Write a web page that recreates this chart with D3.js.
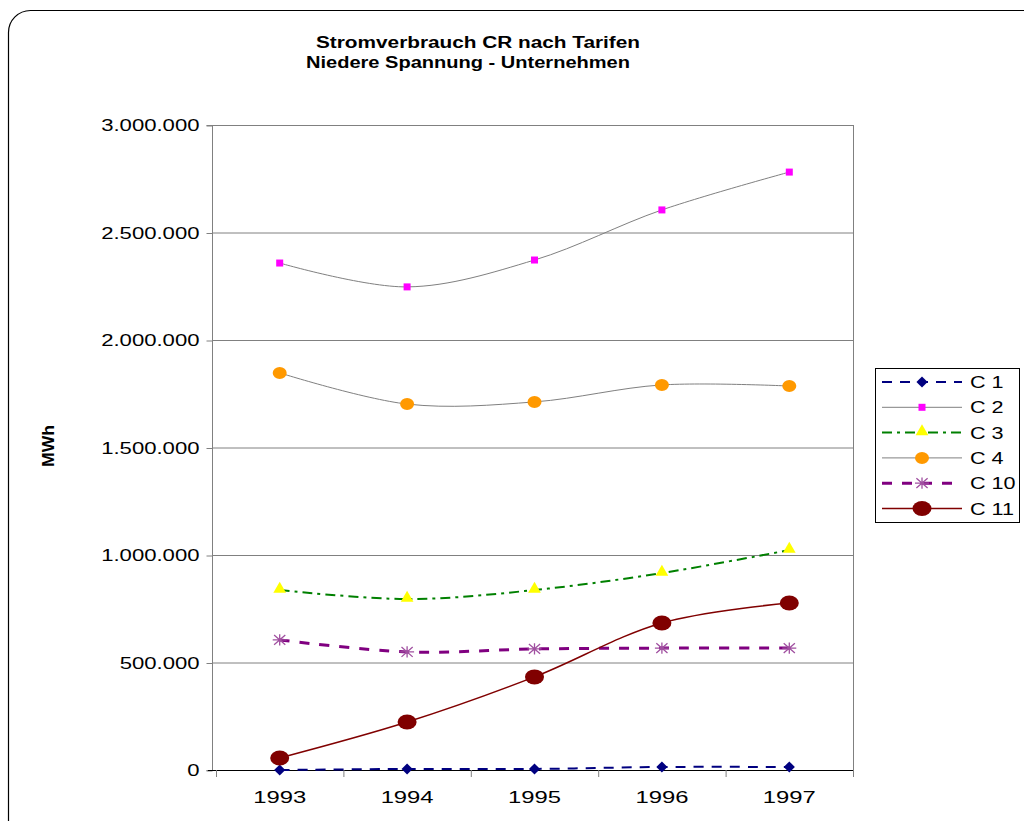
<!DOCTYPE html>
<html>
<head>
<meta charset="utf-8">
<script src="https://cdn.jsdelivr.net/npm/d3@7"></script>
<style>
  html, body { margin: 0; padding: 0; background: #fff; }
  svg { display: block; font-family: "Liberation Sans", Arial, sans-serif; }
</style>
</head>
<body>
<svg id="chart" width="1024" height="821"></svg>
<script>
// Electricity consumption by tariff, low voltage – businesses (MWh)
const years = ["1993", "1994", "1995", "1996", "1997"];
const c1  = [0, 5000, 5000, 14000, 14000];
const c2  = [2358000, 2247000, 2372000, 2605000, 2781000];
const c3  = [837000, 795000, 837000, 916000, 1023000];
const c4  = [1847000, 1702000, 1712000, 1791000, 1786000];
const c10 = [605000, 549000, 563000, 567000, 567000];
const c11 = [56000, 223000, 433000, 684000, 777000];
const yTicks = [0, 500000, 1000000, 1500000, 2000000, 2500000, 3000000];

const series = [
  { name: "C 1",  values: c1,  line: "#000080", width: 2,   dash: "10,8",      marker: "diamond",  mfill: "#000080" },
  { name: "C 2",  values: c2,  line: "#808080", width: 1,   dash: null,        marker: "square",   mfill: "#ff00ff" },
  { name: "C 3",  values: c3,  line: "#008000", width: 2,   dash: "10,5,3,5",  marker: "triangle", mfill: "#ffff00" },
  { name: "C 4",  values: c4,  line: "#808080", width: 1,   dash: null,        marker: "circle",   mfill: "#ff9900" },
  { name: "C 10", values: c10, line: "#800080", width: 3,   dash: "10,10",     marker: "star",     mfill: "#a050a0" },
  { name: "C 11", values: c11, line: "#800000", width: 1.5, dash: null,        marker: "bigcircle",mfill: "#800000" }
];

const svg = d3.select("#chart");

// widen text horizontally, keeping its anchor
function stretch(sel, factor) {
  sel.each(function () {
    const w = this.getComputedTextLength();
    d3.select(this).attr("textLength", w * factor).attr("lengthAdjust", "spacingAndGlyphs");
  });
}

// rounded outer frame
svg.append("rect")
  .attr("x", 8.5).attr("y", 10.5).attr("width", 1040).attr("height", 840)
  .attr("rx", 22).attr("ry", 22)
  .attr("fill", "none").attr("stroke", "#000").attr("stroke-width", 1.2);

// title
const title = svg.append("g").attr("font-weight", "bold").attr("font-size", 16).attr("fill", "#000");
title.append("text").attr("x", 316).attr("y", 48)
  .attr("textLength", 324).attr("lengthAdjust", "spacingAndGlyphs")
  .text("Stromverbrauch CR nach Tarifen");
title.append("text").attr("x", 306).attr("y", 68)
  .attr("textLength", 324).attr("lengthAdjust", "spacingAndGlyphs")
  .text("Niedere Spannung - Unternehmen");

const plot = { left: 212, right: 853, top: 125, bottom: 770 };

const x = d3.scaleBand().domain(years).range([216, 853]);
const y = d3.scaleLinear().domain([0, 3000000]).range([plot.bottom, plot.top]);
const fmt = v => d3.format(",")(v).replace(/,/g, ".");

// gridlines
svg.append("g").selectAll("line").data(yTicks.filter(d => d > 0)).join("line")
  .attr("x1", plot.left).attr("x2", plot.right)
  .attr("y1", d => y(d) + 0.5).attr("y2", d => y(d) + 0.5)
  .attr("stroke", "#808080").attr("stroke-width", 1);

// plot area right edge
svg.append("line")
  .attr("x1", plot.right + 0.5).attr("x2", plot.right + 0.5)
  .attr("y1", plot.top).attr("y2", plot.bottom)
  .attr("stroke", "#808080");

// y axis
const yAxis = svg.append("g").attr("transform", `translate(${plot.left + 0.5},0.5)`)
  .call(d3.axisLeft(y).tickValues(yTicks).tickFormat(fmt).tickSize(6).tickPadding(7));
yAxis.select(".domain").attr("stroke", "#808080").attr("d", `M-6,${plot.top}H0V${plot.bottom}H-6`);
yAxis.selectAll(".tick line").attr("stroke", "#808080");
yAxis.selectAll(".tick text").attr("font-size", 17).attr("fill", "#000")
  .attr("font-family", "'Liberation Sans', Arial, sans-serif")
  .call(stretch, 1.3);

// x axis
const xAxis = svg.append("g").attr("transform", `translate(0,${plot.bottom + 0.5})`)
  .call(d3.axisBottom(x).tickSize(0).tickPadding(20));
xAxis.select(".domain").attr("stroke", "#000").attr("d", `M${plot.left - 4},0H${plot.right}`);
xAxis.selectAll(".tick text").attr("font-size", 17).attr("fill", "#000")
  .attr("font-family", "'Liberation Sans', Arial, sans-serif")
  .call(stretch, 1.4);
// category boundary ticks
const bounds = years.map(d => x(d)).concat([x(years[years.length - 1]) + x.bandwidth()]);
svg.append("g").selectAll("line").data(bounds).join("line")
  .attr("x1", d => d + 0.5).attr("x2", d => d + 0.5)
  .attr("y1", plot.bottom).attr("y2", plot.bottom + 7)
  .attr("stroke", "#808080");

// y axis label
svg.append("text")
  .attr("transform", "translate(54,446) rotate(-90)")
  .attr("text-anchor", "middle").attr("font-weight", "bold").attr("font-size", 16)
  .attr("textLength", 42).attr("lengthAdjust", "spacingAndGlyphs")
  .text("MWh");

const cx = (d, i) => x(years[i]) + x.bandwidth() / 2;

function drawMarker(g, type, fill, px, py) {
  if (type === "diamond") {
    g.append("path").attr("d", d3.symbol(d3.symbolDiamond, 55)())
      .attr("transform", `translate(${px},${py}) scale(1.4,0.8)`).attr("fill", fill);
  } else if (type === "square") {
    g.append("rect").attr("x", px - 3.5).attr("y", py - 3.5).attr("width", 7).attr("height", 7).attr("fill", fill);
  } else if (type === "triangle") {
    g.append("path").attr("d", d3.symbol(d3.symbolTriangle, 70)())
      .attr("transform", `translate(${px},${py - 1})`).attr("fill", fill);
  } else if (type === "circle") {
    g.append("ellipse").attr("cx", px).attr("cy", py).attr("rx", 7).attr("ry", 6).attr("fill", fill);
  } else if (type === "bigcircle") {
    g.append("ellipse").attr("cx", px).attr("cy", py).attr("rx", 9.5).attr("ry", 7.5).attr("fill", fill);
  } else if (type === "star") {
    const s = 7;
    const p = `M${px - s},${py}H${px + s}M${px - s * 0.8},${py - s * 0.7}L${px + s * 0.8},${py + s * 0.7}` +
              `M${px - s * 0.8},${py + s * 0.7}L${px + s * 0.8},${py - s * 0.7}M${px},${py - s * 0.8}V${py + s * 0.8}`;
    g.append("path").attr("d", p).attr("stroke", fill).attr("stroke-width", 1.3).attr("fill", "none");
  }
}

const line = d3.line().x(cx).y(d => y(d)).curve(d3.curveCatmullRom.alpha(0.5));

series.forEach(s => {
  const g = svg.append("g");
  g.append("path").attr("d", line(s.values))
    .attr("fill", "none").attr("stroke", s.line).attr("stroke-width", s.width)
    .attr("stroke-dasharray", s.dash);
  s.values.forEach((v, i) => drawMarker(g, s.marker, s.mfill, cx(v, i), y(v)));
});

// legend
const legend = svg.append("g");
legend.append("rect").attr("x", 875.5).attr("y", 368.5).attr("width", 144).attr("height", 154)
  .attr("fill", "#fff").attr("stroke", "#000");
series.forEach((s, i) => {
  const ly = 382 + i * 25.3;
  legend.append("line").attr("x1", 882).attr("x2", 962).attr("y1", ly).attr("y2", ly)
    .attr("stroke", s.line).attr("stroke-width", s.width).attr("stroke-dasharray", s.dash);
  drawMarker(legend, s.marker, s.mfill, 922, ly);
  legend.append("text").attr("x", 970).attr("y", ly + 6).attr("font-size", 16)
    .text(s.name).call(stretch, 1.35);
});
</script>
</body>
</html>
